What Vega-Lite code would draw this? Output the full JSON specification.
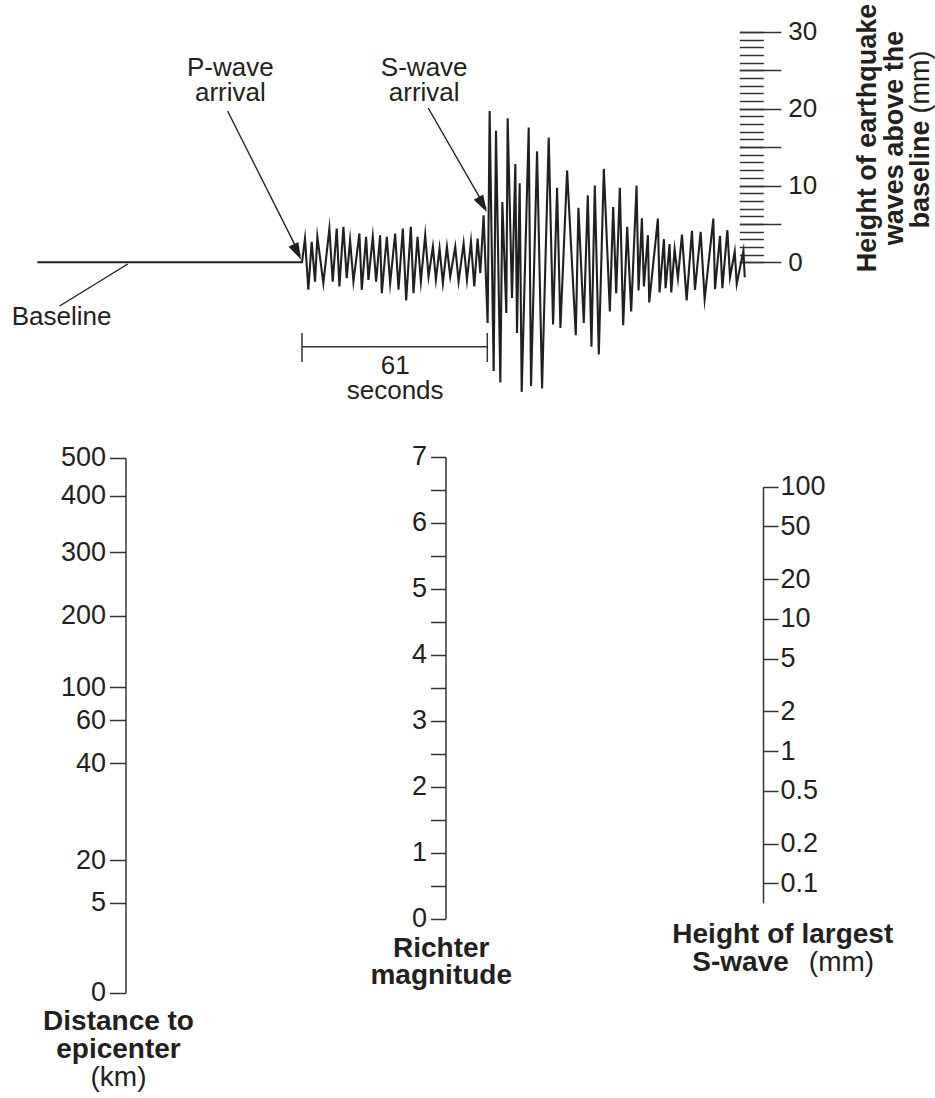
{
  "$schema": "https://vega.github.io/schema/vega-lite/v6.json",
  "width": 935,
  "height": 1098,
  "autosize": {"type": "none"},
  "padding": 0,
  "background": "#ffffff",
  "config": {
    "view": {"stroke": null},
    "font": "Liberation Sans",
    "axis": {"labelFont": "Liberation Sans", "labelColor": "#231f20", "tickColor": "#333333", "domainColor": "#333333", "grid": false, "labelOverlap": false, "labelFlush": false}
  },
  "datasets": {
    "trace": [{"t":-87.15,"mm":0},{"t":0,"mm":0},{"t":0.99,"mm":3.1},{"t":2.09,"mm":-3.58},{"t":3.19,"mm":2.67},{"t":4.29,"mm":-2.51},{"t":5.06,"mm":3.32},{"t":7.03,"mm":-2.72},{"t":9.01,"mm":4.39},{"t":10.11,"mm":-2.51},{"t":11.43,"mm":4.39},{"t":12.31,"mm":-3.15},{"t":13.63,"mm":4.61},{"t":14.73,"mm":-2.07},{"t":15.83,"mm":2.88},{"t":16.93,"mm":-2.51},{"t":18.9,"mm":3.75},{"t":19.67,"mm":-3.58},{"t":21.1,"mm":3.32},{"t":21.87,"mm":-2.29},{"t":23.3,"mm":3.32},{"t":24.4,"mm":-2.51},{"t":25.72,"mm":3.53},{"t":26.27,"mm":-4.01},{"t":27.92,"mm":3.32},{"t":29.02,"mm":-2.72},{"t":30.67,"mm":3.75},{"t":31.77,"mm":-3.58},{"t":33.19,"mm":4.39},{"t":34.29,"mm":-4.96},{"t":35.83,"mm":4.61},{"t":36.71,"mm":-4.01},{"t":38.03,"mm":3.32},{"t":39.13,"mm":-2.51},{"t":40.56,"mm":3.53},{"t":41.66,"mm":-1.86},{"t":43.09,"mm":2.02},{"t":44.08,"mm":-2.29},{"t":45.28,"mm":1.81},{"t":46.38,"mm":-2.72},{"t":47.7,"mm":2.02},{"t":48.8,"mm":-1.86},{"t":50.45,"mm":2.02},{"t":51.55,"mm":-2.51},{"t":53.2,"mm":2.45},{"t":54.3,"mm":-2.29},{"t":55.62,"mm":2.67},{"t":56.72,"mm":-3.15},{"t":57.81,"mm":3.1},{"t":58.69,"mm":-1.43},{"t":59.79,"mm":6.12},{"t":61.11,"mm":-7.9},{"t":61.77,"mm":19.7},{"t":63.09,"mm":-14.15},{"t":63.86,"mm":17.12},{"t":65.29,"mm":-15.66},{"t":65.95,"mm":7.84},{"t":67.26,"mm":-6.6},{"t":67.7,"mm":18.75},{"t":69.13,"mm":-4.66},{"t":70.23,"mm":12.8},{"t":70.78,"mm":-9.19},{"t":71.66,"mm":10.3},{"t":72.32,"mm":-16.87},{"t":74.63,"mm":17.55},{"t":75.4,"mm":-16.09},{"t":77.38,"mm":14.44},{"t":79.03,"mm":-16.43},{"t":81.22,"mm":16.25},{"t":82.65,"mm":-8.11},{"t":83.97,"mm":9.7},{"t":85.07,"mm":-8.54},{"t":87.27,"mm":11.94},{"t":90.13,"mm":-9.49},{"t":91.0,"mm":7.11},{"t":92.76,"mm":-7.9},{"t":94.08,"mm":8.71},{"t":95.29,"mm":-11.0},{"t":96.39,"mm":10.0},{"t":97.71,"mm":-11.99},{"t":99.36,"mm":12.16},{"t":101.34,"mm":-6.39},{"t":102.44,"mm":7.2},{"t":103.43,"mm":-4.01},{"t":104.63,"mm":9.7},{"t":105.73,"mm":-8.2},{"t":107.05,"mm":4.61},{"t":108.37,"mm":-6.39},{"t":110.13,"mm":10.0},{"t":110.79,"mm":-3.67},{"t":111.89,"mm":5.73},{"t":112.55,"mm":-3.15},{"t":113.87,"mm":3.53},{"t":114.31,"mm":-5.22},{"t":117.16,"mm":5.69},{"t":117.71,"mm":-3.93},{"t":119.14,"mm":3.01},{"t":119.69,"mm":-3.37},{"t":121.01,"mm":2.37},{"t":121.56,"mm":-3.93},{"t":122.66,"mm":1.68},{"t":123.76,"mm":-2.07},{"t":125.08,"mm":3.62},{"t":126.62,"mm":-4.96},{"t":128.37,"mm":4.09},{"t":129.36,"mm":-3.58},{"t":131.23,"mm":3.96},{"t":132.55,"mm":-4.79},{"t":135.41,"mm":5.69},{"t":135.96,"mm":-3.5},{"t":137.61,"mm":3.45},{"t":138.38,"mm":-3.37},{"t":140.03,"mm":4.18},{"t":140.91,"mm":-1.94},{"t":142.45,"mm":1.38},{"t":143.11,"mm":-2.81},{"t":145.31,"mm":1.5},{"t":145.75,"mm":-1.94}],
    "pointers": [
      {"t": -79.79, "mm": -5.69, "t2": -57.37, "mm2": -0.22},
      {"t": -24.5, "mm": 19.7, "t2": -0.6, "mm2": 0.9},
      {"t": 41.55, "mm": 20.09, "t2": 60.6, "mm2": 7.0}
    ],
    "pHead": [{"t": -0.33, "mm": 0.36}],
    "sHead": [{"t": 60.84, "mm": 6.55}],
    "bracket": [
      {"t": 0, "t2": 61, "mm": -10.99, "mm2": -10.99},
      {"t": 0, "t2": 0, "mm": -9.21, "mm2": -12.98},
      {"t": 61, "t2": 61, "mm": -9.21, "mm2": -12.98}
    ],
    "seisLabels": [
      {"label": "P-wave\narrival", "t": -23.58, "mm": 25.3},
      {"label": "S-wave\narrival", "t": 40.23, "mm": 25.3},
      {"label": "Baseline", "t": -79.13, "mm": -7.12},
      {"label": "61\nseconds", "t": 30.66, "mm": -13.5}
    ],
    "seisTitle": [
      {"label": "Height of earthquake", "t": 186.3, "mm": 16.19},
      {"label": "waves above the", "t": 195.2, "mm": 16.19}
    ],
    "seisTitleB": [{"label": "baseline", "t": 203.8, "mm": 18.46}],
    "seisTitleU": [{"label": "(mm)", "t": 203.8, "mm": 19.38}],
    "distTitle": [{"label": "Distance to\nepicenter", "t": -60.4, "v": -1.63}],
    "distUnit": [{"label": "(km)", "t": -60.4, "v": -4.74}],
    "magTitle": [{"label": "Richter\nmagnitude", "t": 45.83, "v": -0.46}],
    "swTitle": [{"label": "Height of largest", "t": 158.27, "v": 0.0406}],
    "swTitleB": [{"label": "S-wave", "t": 160.25, "v": 0.02494}],
    "swTitleU": [{"label": "(mm)", "t": 166.84, "v": 0.02494}]
  },
  "resolve": {"scale": {"y": "independent"}},
  "layer": [
    {
      "resolve": {"axis": {"y": "independent"}},
      "layer": [
        {
          "data": {"name": "trace"},
          "mark": {"type": "line", "stroke": "#231f20", "strokeWidth": 2.1, "strokeJoin": "miter", "strokeMiterLimit": 12},
          "encoding": {
            "x": {"field": "t", "type": "quantitative", "scale": {"domain": [0, 61], "range": [302, 487.3], "zero": false, "nice": false}, "axis": null},
            "y": {"field": "mm", "type": "quantitative", "scale": {"domain": [0, 30], "range": [262.3, 31.9], "zero": false, "nice": false},
                  "axis": {"orient": "right", "offset": -195.7, "values": [0, 5, 10, 15, 20, 25, 30], "tickSize": 41.5, "tickWidth": 1.5, "domain": false, "labelExpr": "datum.value % 10 === 0 ? datum.label : ''", "labelPadding": 7, "labelFontSize": 26, "title": null}}
          }
        },
        {
          "data": {"name": "pointers"},
          "mark": {"type": "rule", "stroke": "#231f20", "strokeWidth": 1.4},
          "encoding": {
            "x": {"field": "t", "type": "quantitative", "axis": null},
            "x2": {"field": "t2"},
            "y": {"field": "mm", "type": "quantitative",
                  "axis": {"orient": "right", "offset": -195.7, "values": [0,1,2,3,4,5,6,7,8,9,10,11,12,13,14,15,16,17,18,19,20,21,22,23,24,25,26,27,28,29,30], "tickSize": 24, "tickWidth": 1.5, "domain": false, "labels": false, "title": null}},
            "y2": {"field": "mm2"}
          }
        },
        {
          "data": {"name": "pHead"},
          "mark": {"type": "point", "shape": "M0,0L-0.32,-1L0.32,-1Z", "size": 1156, "angle": 333.7, "filled": true, "opacity": 1, "color": "#231f20"},
          "encoding": {
            "x": {"field": "t", "type": "quantitative", "axis": null},
            "y": {"field": "mm", "type": "quantitative", "axis": null}
          }
        },
        {
          "data": {"name": "sHead"},
          "mark": {"type": "point", "shape": "M0,0L-0.32,-1L0.32,-1Z", "size": 1156, "angle": 330.6, "filled": true, "opacity": 1, "color": "#231f20"},
          "encoding": {
            "x": {"field": "t", "type": "quantitative", "axis": null},
            "y": {"field": "mm", "type": "quantitative", "axis": null}
          }
        },
        {
          "data": {"name": "bracket"},
          "mark": {"type": "rule", "stroke": "#333333", "strokeWidth": 1.5},
          "encoding": {
            "x": {"field": "t", "type": "quantitative", "axis": null},
            "x2": {"field": "t2"},
            "y": {"field": "mm", "type": "quantitative", "axis": null},
            "y2": {"field": "mm2"}
          }
        },
        {
          "data": {"name": "seisLabels"},
          "mark": {"type": "text", "fontSize": 26, "lineBreak": "\n", "lineHeight": 25.5, "align": "center", "baseline": "middle", "color": "#231f20", "font": "Liberation Sans"},
          "encoding": {
            "x": {"field": "t", "type": "quantitative", "axis": null},
            "y": {"field": "mm", "type": "quantitative", "axis": null},
            "text": {"field": "label"}
          }
        },
        {
          "data": {"name": "seisTitle"},
          "mark": {"type": "text", "fontSize": 27, "fontWeight": "bold", "angle": 270, "align": "center", "baseline": "middle", "color": "#231f20", "font": "Liberation Sans"},
          "encoding": {
            "x": {"field": "t", "type": "quantitative", "axis": null},
            "y": {"field": "mm", "type": "quantitative", "axis": null},
            "text": {"field": "label"}
          }
        },
        {
          "data": {"name": "seisTitleB"},
          "mark": {"type": "text", "fontSize": 27, "fontWeight": "bold", "angle": 270, "align": "right", "baseline": "middle", "color": "#231f20", "font": "Liberation Sans"},
          "encoding": {
            "x": {"field": "t", "type": "quantitative", "axis": null},
            "y": {"field": "mm", "type": "quantitative", "axis": null},
            "text": {"field": "label"}
          }
        },
        {
          "data": {"name": "seisTitleU"},
          "mark": {"type": "text", "fontSize": 27, "angle": 270, "align": "left", "baseline": "middle", "color": "#231f20", "font": "Liberation Sans"},
          "encoding": {
            "x": {"field": "t", "type": "quantitative", "axis": null},
            "y": {"field": "mm", "type": "quantitative", "axis": null},
            "text": {"field": "label"}
          }
        }
      ]
    },
    {
      "resolve": {"axis": {"y": "independent"}},
      "layer": [
        {
          "data": {"name": "distTitle"},
          "mark": {"type": "text", "fontSize": 28, "fontWeight": "bold", "lineBreak": "\n", "lineHeight": 28, "align": "center", "baseline": "middle", "color": "#231f20", "font": "Liberation Sans"},
          "encoding": {
            "x": {"field": "t", "type": "quantitative", "axis": null},
            "y": {"field": "v", "type": "quantitative",
                  "scale": {"domain": [0, 5, 20, 40, 60, 100, 200, 300, 400, 500], "range": [992.7, 902.7, 860, 763, 720, 687, 615.7, 552, 495.7, 457.7], "zero": false, "nice": false},
                  "axis": {"orient": "left", "offset": -125.5, "values": [0, 5, 20, 40, 60, 100, 200, 300, 400, 500], "tickSize": 16, "tickWidth": 1.5, "domain": true, "domainWidth": 1.5, "labelPadding": 4, "labelFontSize": 27, "title": null}},
            "text": {"field": "label"}
          }
        },
        {
          "data": {"name": "distUnit"},
          "mark": {"type": "text", "fontSize": 28, "align": "center", "baseline": "middle", "color": "#231f20", "font": "Liberation Sans"},
          "encoding": {
            "x": {"field": "t", "type": "quantitative", "axis": null},
            "y": {"field": "v", "type": "quantitative", "axis": null},
            "text": {"field": "label"}
          }
        }
      ]
    },
    {
      "data": {"name": "magTitle"},
      "mark": {"type": "text", "fontSize": 28, "fontWeight": "bold", "lineBreak": "\n", "lineHeight": 27, "align": "center", "baseline": "middle", "color": "#231f20", "font": "Liberation Sans"},
      "encoding": {
        "x": {"field": "t", "type": "quantitative", "axis": null},
        "y": {"field": "v", "type": "quantitative",
              "scale": {"domain": [0, 7], "range": [918.7, 456.7], "zero": false, "nice": false},
              "axis": {"orient": "left", "offset": -445.5, "values": [0, 0.5, 1, 1.5, 2, 2.5, 3, 3.5, 4, 4.5, 5, 5.5, 6, 6.5, 7], "tickSize": 15, "tickWidth": 1.5, "domain": true, "domainWidth": 1.5, "labelExpr": "datum.value % 1 === 0 ? '' + datum.value : ''", "labelPadding": 4, "labelFontSize": 27, "title": null}},
        "text": {"field": "label"}
      }
    },
    {
      "resolve": {"axis": {"y": "independent"}},
      "layer": [
        {
          "data": {"name": "swTitle"},
          "mark": {"type": "text", "fontSize": 28, "fontWeight": "bold", "align": "center", "baseline": "middle", "color": "#231f20", "font": "Liberation Sans"},
          "encoding": {
            "x": {"field": "t", "type": "quantitative", "axis": null},
            "y": {"field": "v", "type": "quantitative",
                  "scale": {"type": "log", "domain": [0.071, 100], "range": [903, 486.7], "nice": false},
                  "axis": {"orient": "right", "offset": -172, "values": [0.1, 0.2, 0.5, 1, 2, 5, 10, 20, 50, 100], "format": "~g", "tickSize": 15, "tickWidth": 1.5, "domain": true, "domainWidth": 1.5, "labelPadding": 2, "labelFontSize": 27, "title": null}},
            "text": {"field": "label"}
          }
        },
        {
          "data": {"name": "swTitleB"},
          "mark": {"type": "text", "fontSize": 28, "fontWeight": "bold", "align": "right", "baseline": "middle", "color": "#231f20", "font": "Liberation Sans"},
          "encoding": {
            "x": {"field": "t", "type": "quantitative", "axis": null},
            "y": {"field": "v", "type": "quantitative", "axis": null},
            "text": {"field": "label"}
          }
        },
        {
          "data": {"name": "swTitleU"},
          "mark": {"type": "text", "fontSize": 28, "align": "left", "baseline": "middle", "color": "#231f20", "font": "Liberation Sans"},
          "encoding": {
            "x": {"field": "t", "type": "quantitative", "axis": null},
            "y": {"field": "v", "type": "quantitative", "axis": null},
            "text": {"field": "label"}
          }
        }
      ]
    }
  ]
}
